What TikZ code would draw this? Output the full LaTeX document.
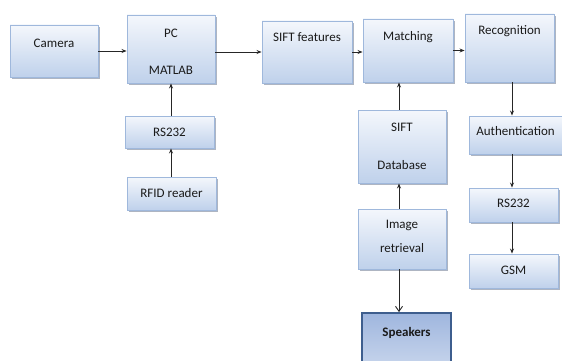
\documentclass[tikz,border=0pt]{standalone}
\usepackage{fontspec}
\setmainfont{Carlito}
\usetikzlibrary{arrows.meta,shadows}
\definecolor{bordc}{HTML}{9FB8DC}
\definecolor{fillc}{HTML}{BFD1EB}
\definecolor{topc}{HTML}{F4F7FC}
\definecolor{shadc}{HTML}{8C96A8}
\definecolor{spkb}{HTML}{3E5E8E}
\definecolor{spkt}{HTML}{9FB6DE}
\definecolor{spkbot}{HTML}{D3DEF0}
\definecolor{txtc}{HTML}{1A1A1A}
\tikzset{
  blk/.style={draw=bordc, line width=0.9pt, top color=topc, bottom color=fillc,
    drop shadow={shadow xshift=1.5pt, shadow yshift=-1.8pt, fill=shadc, opacity=0.7},
    inner sep=0pt},
  spkblk/.style={draw=spkb, line width=1.8pt, top color=spkt, bottom color=spkbot,
    inner sep=0pt},
  arr/.style={draw=black!85, line width=0.9pt, -{Stealth[length=5pt,width=4pt]}},
  oarr/.style={draw=black!85, line width=0.9pt, -{Straight Barb[length=5pt,width=7pt]}},
  every label/.style={font=\fontsize{13}{15}\selectfont, text=txtc, inner sep=0pt},
}
\begin{document}
\begin{tikzpicture}[x=1pt,y=-1pt]
\useasboundingbox (0,0) rectangle (562,361);
\clip (0,0) rectangle (562,361);
\node[blk, minimum width=88pt, minimum height=52pt, label={[yshift=8pt]center:Camera}] (camera) at (54,51) {};
\node[blk, minimum width=88pt, minimum height=68pt, label={[yshift=16pt]center:PC}, label={[yshift=-21pt]center:MATLAB}] (pc) at (171,49) {};
\node[blk, minimum width=89pt, minimum height=32pt, label={center:RS232}] (rs1) at (169.5,132) {};
\node[blk, minimum width=89pt, minimum height=33pt, label={center:RFID reader}] (rfid) at (171.5,193.5) {};
\node[blk, minimum width=90pt, minimum height=62pt, label={[yshift=15pt]center:SIFT features}] (sift) at (307,52) {};
\node[blk, minimum width=90pt, minimum height=63pt, label={[yshift=13.5pt]center:Matching}] (match) at (408,50.5) {};
\node[blk, minimum width=89pt, minimum height=68pt, label={[yshift=17pt]center:Recognition}] (recog) at (509.5,48) {};
\node[blk, minimum width=88pt, minimum height=73pt, label={[yshift=19.5pt]center:SIFT}, label={[yshift=-18.5pt]center:Database}] (db) at (402,146.5) {};
\node[blk, minimum width=93pt, minimum height=38pt, label={[yshift=4pt]center:Authentication}] (auth) at (515.5,135) {};
\node[blk, minimum width=88pt, minimum height=60pt, label={[yshift=14pt]center:Image}, label={[yshift=-9pt]center:retrieval}] (img) at (402,239) {};
\node[blk, minimum width=89pt, minimum height=34pt, label={[yshift=2pt]center:RS232}] (rs2) at (513.5,205) {};
\node[blk, minimum width=89pt, minimum height=34pt, label={[yshift=1pt]center:GSM}] (gsm) at (513.5,271) {};
\node[spkblk, minimum width=89pt, minimum height=70pt, label={[yshift=15pt, font=\fontsize{13}{15}\selectfont\bfseries]center:Speakers}] (spk) at (406.5,348) {};
\draw[arr] (camera.east) -- (camera.east -| pc.west);
\draw[arr] (sift.west -| pc.east) -- (sift.west);
\draw[arr] (sift.east) -- (sift.east -| match.west);
\draw[arr] (match.east) -- (match.east -| recog.west);
\draw[arr] (rs1.north -| pc) -- (pc.south);
\draw[arr] (rfid.north -| pc) -- (rs1.south -| pc);
\draw[arr] (db.north -| 399,0) -- (match.south -| 399,0);
\draw[arr] (img.north -| 399,0) -- (db.south -| 399,0);
\draw[oarr] (img.south -| 399,0) -- (spk.north -| 399,0);
\draw[arr] (recog.south -| 512,0) -- (auth.north -| 512,0);
\draw[arr] (auth.south -| 512,0) -- (rs2.north -| 512,0);
\draw[arr] (rs2.south -| 512,0) -- (gsm.north -| 512,0);
\end{tikzpicture}
\end{document}
